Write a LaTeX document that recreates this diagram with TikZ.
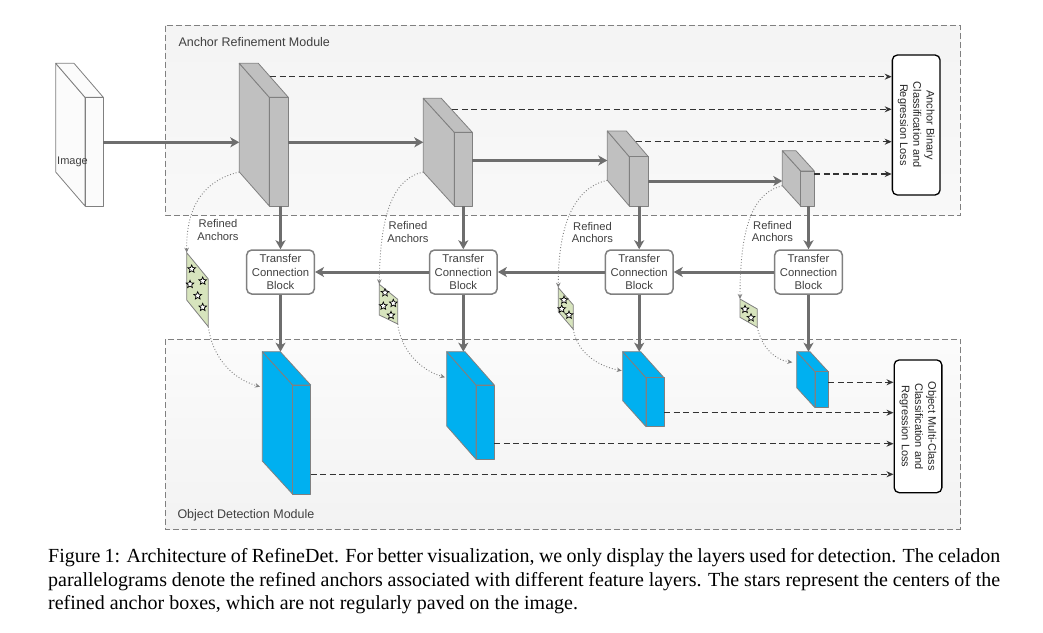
\documentclass[tikz,border=0pt]{standalone}
\usepackage{fontspec}
\setmainfont{Liberation Serif}
\newfontfamily\arial{Liberation Sans}
\usetikzlibrary{arrows.meta,shapes.geometric,calc}
\definecolor{arrgray}{HTML}{6E6E6E}
\definecolor{edgegray}{HTML}{808080}
\definecolor{blockgray}{HTML}{C0C0C0}
\definecolor{featblue}{HTML}{00B0F0}
\definecolor{celadon}{HTML}{D7E4BD}
\definecolor{labelgray}{HTML}{404040}
\definecolor{dashgray}{HTML}{808080}
\newcommand{\mycube}[8]{%
  \coordinate (#1-tl) at (#2,#3);
  \coordinate (#1-ta) at (#2+#6,#3);
  \coordinate (#1-ftl) at (#2+#4,#3+#5);
  \coordinate (#1-ftr) at (#2+#4+#6,#3+#5);
  \coordinate (#1-fbl) at (#2+#4,#7);
  \coordinate (#1-fbr) at (#2+#4+#6,#7);
  \coordinate (#1-lb) at (#2,#7-#5);
  \draw[cubeedge,fill=#8] (#1-tl) -- (#1-ftl) -- (#1-fbl) -- (#1-lb) -- cycle;
  \draw[cubeedge,fill=#8] (#1-tl) -- (#1-ta) -- (#1-ftr) -- (#1-ftl) -- cycle;
  \draw[cubeedge,fill=#8] (#1-ftl) rectangle (#1-fbr);
}
\newcommand{\capline}[1]{\makebox[952pt][s]{\spaceskip=0.25em plus 0.3em minus 0.1em #1}}
\tikzset{
  cubeedge/.style={draw=edgegray,line width=0.8pt,line join=round},
  thickarr/.style={draw=arrgray,line width=3pt,-{Stealth[length=9pt,width=10pt,inset=2.5pt]}},
  dasharr/.style={draw=black!80,line width=1.1pt,dash pattern=on 6pt off 3.5pt,-{Stealth[length=7pt,width=6pt]}},
  dotarr/.style={draw=gray,line width=0.9pt,dash pattern=on 0.9pt off 2pt,-{Stealth[length=5pt,width=4.5pt]}},
  module/.style={draw=dashgray,line width=0.9pt,dash pattern=on 6pt off 3pt},
  modlabel/.style={anchor=base west,inner sep=0,text=labelgray,font=\arial\fontsize{12.5}{14}\selectfont},
  tcb/.style={draw=edgegray,line width=1.5pt,rounded corners=5pt,fill=white,minimum width=67.6pt,minimum height=44pt,inner sep=0,align=center,text=labelgray,font=\arial\fontsize{11.3}{13.7}\selectfont},
  lossbox/.style={draw=black,line width=1.3pt,rounded corners=5pt,fill=white,rotate=-90,minimum height=47.7pt,inner sep=0,align=center,text=black!85,font=\arial\fontsize{11}{13.3}\selectfont},
  reflabel/.style={inner sep=0,align=center,text=labelgray,font=\arial\fontsize{11.2}{12.7}\selectfont},
  para/.style={draw=edgegray,line width=0.8pt,fill=celadon},
  starmark/.style={star,star points=5,star point ratio=2.2,minimum size=8pt,inner sep=0,draw=black,fill=white,line width=0.7pt},
}
\begin{document}
\begin{tikzpicture}[x=1pt,y=-1pt]
\useasboundingbox (0,0) rectangle (1043,632);
\fill[white] (0,0) rectangle (1043,632);
% modules
\shade[top color=gray!9,bottom color=gray!5] (165.3,25.7) rectangle (960.7,215);
\draw[module] (165.3,25.7) rectangle (960.7,215);
\shade[top color=gray!3,bottom color=gray!10] (165,339.3) rectangle (960.7,529);
\draw[module] (165,339.3) rectangle (960.7,529);
\node[modlabel] (armlabel) at (178.3,46.5) {Anchor Refinement Module};
\node[modlabel] (odmlabel) at (177.3,518) {Object Detection Module};
% image block
\mycube{img}{55.7}{63.3}{29.3}{34}{18.3}{206}{gray!3}
\node[anchor=base west,inner sep=0,text=labelgray,font=\arial\fontsize{11}{13}\selectfont] (imglabel) at (57,164.5) {Image};
% gray feature blocks
\mycube{b1}{239.3}{63.3}{30}{34}{19}{206}{blockgray}
\mycube{b2}{423.3}{98.3}{31}{34}{18}{206}{blockgray}
\mycube{b3}{607.3}{131}{22}{25.7}{19}{206}{blockgray}
\mycube{b4}{782.3}{150.7}{18.4}{20.3}{13.6}{206}{blockgray}
% blue blocks
\mycube{c1}{262.3}{351.7}{30.4}{33.3}{18}{494.3}{featblue}
\mycube{c2}{446.7}{351.7}{29.3}{33.3}{18.3}{459.3}{featblue}
\mycube{c3}{622.7}{351.7}{23.3}{26}{18}{426.7}{featblue}
\mycube{c4}{796.7}{351.7}{18.3}{20}{13.3}{407.7}{featblue}
% TCBs
\node[tcb] (t1) at (280.5,272) {Transfer\\Connection\\Block};
\node[tcb] (t2) at (463.3,272) {Transfer\\Connection\\Block};
\node[tcb] (t3) at (639.2,272) {Transfer\\Connection\\Block};
\node[tcb] (t4) at (808.5,272) {Transfer\\Connection\\Block};
% loss boxes
\node[lossbox,minimum width=140pt] (loss1) at (916.2,125) {Anchor Binary\\Classification and\\Regression Loss};
\node[lossbox,minimum width=132.7pt] (loss2) at (918,426.3) {Object Multi-Class\\Classification and\\Regression Loss};
% thick horizontal arrows (ARM)
\coordinate (in1) at (239.3,142.3);
\coordinate (in2) at (423.3,142.3);
\coordinate (in3) at (607.3,160.5);
\coordinate (in4) at (782.3,181);
\draw[thickarr] (img-ftr |- in1) -- (in1);
\draw[thickarr] (b1-ftr |- in2) -- (in2);
\draw[thickarr] (b2-ftr |- in3) -- (in3);
\draw[thickarr] (b3-ftr |- in4) -- (in4);
% vertical arrows
\draw[thickarr] (b1-fbl -| t1) -- (t1.north);
\draw[thickarr] (b2-fbl -| t2) -- (t2.north);
\draw[thickarr] (b3-fbl -| t3) -- (t3.north);
\draw[thickarr] (b4-fbl -| t4) -- (t4.north);
\draw[thickarr] (t1.south) -- (t1.south |- c1-ta);
\draw[thickarr] (t2.south) -- (t2.south |- c2-ta);
\draw[thickarr] (t3.south) -- (t3.south |- c3-ta);
\draw[thickarr] (t4.south) -- (t4.south |- c4-ta);
% TCB chain
\draw[thickarr] (t2.west) -- (t1.east);
\draw[thickarr] (t3.west) -- (t2.east);
\draw[thickarr] (t4.west) -- (t3.east);
% dashed arrows to ARM loss
\coordinate (d1) at (270.1,76.7);
\coordinate (d2) at (452.3,109.3);
\coordinate (d3) at (635.5,141.7);
\coordinate (d4) at (814.3,174);
\foreach \d in {d1,d2,d3,d4}{\draw[dasharr] (\d) -- (\d -| loss1.south);}
% dashed arrows to ODM loss
\coordinate (e1) at (310.7,474.3);
\coordinate (e2) at (494.3,443.7);
\coordinate (e3) at (664,412.7);
\coordinate (e4) at (828.3,382.3);
\foreach \e in {e1,e2,e3,e4}{\draw[dasharr] (\e) -- (\e -| loss2.south);}
% celadon parallelograms
\coordinate (p1-top) at (186.7,252.7);
\coordinate (p1-bot) at (208.3,326.7);
\draw[para] (p1-top) -- (208.3,279) -- (p1-bot) -- (186.7,300) -- cycle;
\coordinate (p2-top) at (379.3,284.3);
\coordinate (p2-bot) at (397.7,324);
\draw[para] (p2-top) -- (397.7,299.3) -- (p2-bot) -- (379.3,315) -- cycle;
\coordinate (p3-top) at (558.3,287.7);
\coordinate (p3-bot) at (573.3,329.3);
\draw[para] (p3-top) -- (573.3,305) -- (p3-bot) -- (558.3,311.7) -- cycle;
\coordinate (p4-top) at (740,299);
\coordinate (p4-bot) at (757.3,327.3);
\draw[para] (p4-top) -- (757.3,309) -- (p4-bot) -- (740,317.3) -- cycle;
% stars
\node[starmark] (s11) at (191.7,269) {};
\node[starmark] (s12) at (190,284.3) {};
\node[starmark] (s13) at (202.7,281) {};
\node[starmark] (s14) at (197.7,295.7) {};
\node[starmark] (s15) at (202.7,307.3) {};
\node[starmark] (s21) at (385,292.7) {};
\node[starmark] (s22) at (383.3,306) {};
\node[starmark] (s23) at (393.3,303.3) {};
\node[starmark] (s24) at (391,315.3) {};
\node[starmark] (s31) at (564,300) {};
\node[starmark] (s32) at (561.7,309) {};
\node[starmark] (s33) at (569,315) {};
\node[starmark] (s41) at (745,309.3) {};
\node[starmark] (s42) at (751,317.7) {};
% dotted curves block -> parallelogram
\draw[dotarr] (b1-lb) .. controls (205,180) and (186,205) .. (p1-top);
\draw[dotarr] (b2-lb) .. controls (395,178) and (380,210) .. (p2-top);
\draw[dotarr] (b3-lb) .. controls (580,186) and (558,215) .. (p3-top);
\draw[dotarr] (b4-lb) .. controls (758,192) and (740,215) .. (p4-top);
% dotted curves parallelogram -> blue block
\coordinate (q1) at (260,386.7);
\coordinate (q2) at (445,377.3);
\coordinate (q3) at (621.7,370.7);
\coordinate (q4) at (792.3,362.3);
\draw[dotarr] (p1-bot) .. controls (212,355) and (230,378) .. (q1);
\draw[dotarr] (p2-bot) .. controls (401,350) and (420,370) .. (q2);
\draw[dotarr] (p3-bot) .. controls (577,352) and (597,366) .. (q3);
\draw[dotarr] (p4-bot) .. controls (762,348) and (775,360) .. (q4);
% refined anchors labels
\node[reflabel] (r1) at (218,230.3) {Refined\\Anchors};
\node[reflabel] (r2) at (408,232) {Refined\\Anchors};
\node[reflabel] (r3) at (592.5,232.5) {Refined\\Anchors};
\node[reflabel] (r4) at (772.5,231.5) {Refined\\Anchors};
% caption
\node[anchor=north west,inner sep=0,align=left,font=\fontsize{20}{23.5}\selectfont] (cap) at (48,548.5) {%
\capline{Figure 1: Architecture of RefineDet. For better visualization, we only display the layers used for detection. The celadon}\\
\capline{parallelograms denote the refined anchors associated with different feature layers. The stars represent the centers of the}\\
refined anchor boxes, which are not regularly paved on the image.};
\end{tikzpicture}
\end{document}
